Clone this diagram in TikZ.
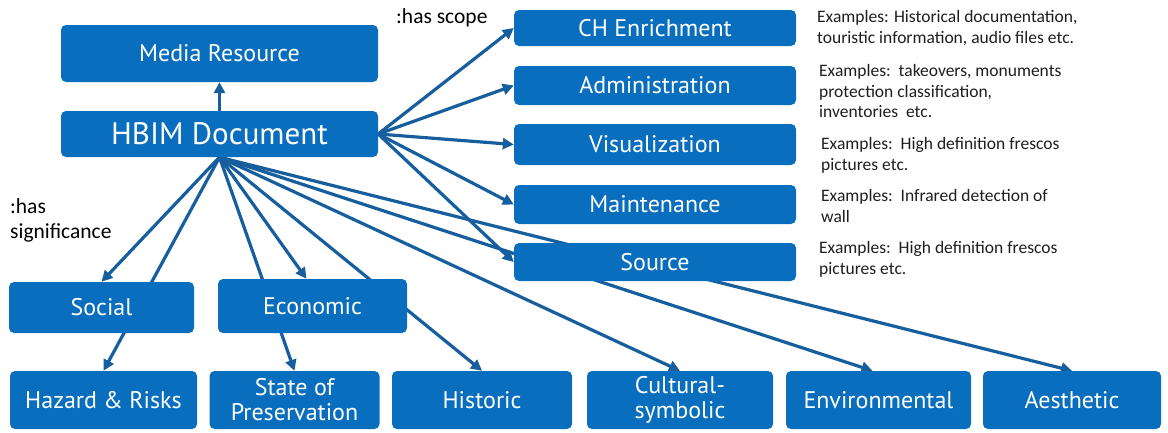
\documentclass[tikz,border=0pt]{standalone}
\usepackage{fontspec}
\setmainfont{Carlito}
\newfontfamily\boxfont{PT Sans}
\usetikzlibrary{arrows.meta,backgrounds}
\definecolor{boxblue}{HTML}{0A6EBE}
\definecolor{edgeblue}{HTML}{175E9E}
\definecolor{notegray}{HTML}{1E1E1E}
\tikzset{
  box/.style={rectangle, rounded corners=5pt, fill=boxblue, text=white,
    inner sep=0pt, align=center, font=\boxfont\fontsize{24}{24}\selectfont},
  edge/.style={draw=edgeblue, line width=3.2pt,
    -{Triangle[length=11pt,width=11pt]}},
  note/.style={anchor=north west, align=left, inner sep=0pt, text=notegray,
    font=\fontsize{17.5}{20.8}\selectfont},
  relation/.style={anchor=west, inner sep=0pt, text=black,
    font=\fontsize{21.5}{25}\selectfont, align=left}
}
\begin{document}
\begin{tikzpicture}[x=1pt,y=-1pt]
\useasboundingbox (0,0) rectangle (1168,432);

% main document and its media
\node[box, minimum width=317pt, minimum height=57pt] (media) at (219.5,53.5) {Media Resource};
\node[box, minimum width=317pt, minimum height=46pt,
      font=\boxfont\fontsize{31}{32}\selectfont] (hbim) at (219.5,134) {HBIM Document};

% scopes
\node[box, minimum width=282pt, minimum height=36pt] (ch)  at (655,28)    {CH Enrichment};
\node[box, minimum width=282pt, minimum height=39pt] (adm) at (655,85.5)  {Administration};
\node[box, minimum width=282pt, minimum height=41pt] (vis) at (655,144.5) {Visualization};
\node[box, minimum width=282pt, minimum height=39pt] (mai) at (655,204.5) {Maintenance};
\node[box, minimum width=282pt, minimum height=38pt] (src) at (655,262)   {Source};

% significances
\node[box, minimum width=185pt, minimum height=51pt] (social) at (101.5,307.5) {Social};
\node[box, minimum width=189pt, minimum height=54pt] (econ)   at (312.5,306)   {Economic};
\node[box, minimum width=187pt, minimum height=58pt] (hazard)   at (103.5,400) {Hazard \& Risks};
\node[box, minimum width=170pt, minimum height=58pt] (state)    at (294.5,400) {State of\\[1pt]Preservation};
\node[box, minimum width=180pt, minimum height=58pt] (historic) at (482,400)   {Historic};
\node[box, minimum width=186pt, minimum height=58pt] (cultural) at (680,400)   {Cultural-\\[1pt]symbolic};
\node[box, minimum width=185pt, minimum height=58pt] (environ)  at (878.5,400) {Environmental};
\node[box, minimum width=178pt, minimum height=58pt] (aesth)    at (1072,400)  {Aesthetic};

% relation labels
\node[relation] (scope) at (396,18) {:has scope};
\node[relation, anchor=north west] (signif) at (10,198) {:has\\significance};

% examples
\node[note] (n1) at (817,10)  {Examples: Historical documentation,\\touristic information, audio files etc.};
\node[note] (n2) at (819,64)  {Examples:\ \ takeovers, monuments\\protection classification,\\inventories\ \ etc.};
\node[note] (n3) at (821,137) {Examples:\ \ High definition frescos\\pictures etc.};
\node[note] (n4) at (821,189) {Examples:\ \ Infrared detection of\\wall};
\node[note] (n5) at (819,241) {Examples:\ \ High definition frescos\\pictures etc.};

% connectors, kept behind the boxes
\begin{scope}[on background layer]
  \draw[edge] (hbim.north) -- (media.south);
  \draw[edge] (hbim.east) -- (ch.west);
  \draw[edge] (hbim.east) -- (adm.west);
  \draw[edge] (hbim.east) -- (vis.west);
  \draw[edge] (hbim.east) -- (mai.west);
  \draw[edge] (hbim.east) -- (src.west);
  \draw[edge] (hbim.south) -- (social.north);
  \draw[edge] (hbim.south) -- (hazard.north);
  \draw[edge] (hbim.south) -- (state.north);
  \draw[edge] (hbim.south) -- ([xshift=-6pt]econ.north);
  \draw[edge] (hbim.south) -- (historic.north);
  \draw[edge] (hbim.south) -- (cultural.north);
  \draw[edge] (hbim.south) -- ([xshift=-6pt]environ.north);
  \draw[edge] (hbim.south) -- (aesth.north);
\end{scope}
\end{tikzpicture}
\end{document}
